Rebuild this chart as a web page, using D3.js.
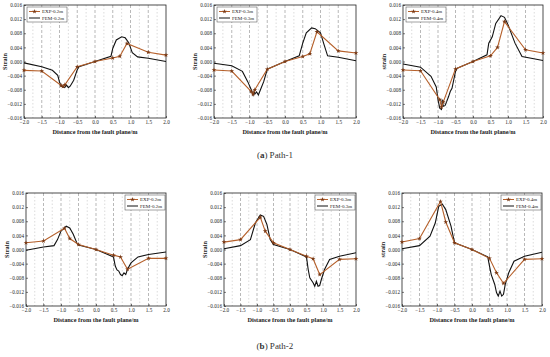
<!DOCTYPE html>
<html>
<head>
<meta charset="utf-8">
<script src="https://cdn.jsdelivr.net/npm/d3@7"></script>
<style>
  body { margin: 0; background: #fff; }
  svg { display: block; font-family: "Liberation Serif", "DejaVu Serif", serif; }
</style>
</head>
<body>
<script>
// x positions (m) and strain values
var xTicks = [-2.0, -1.5, -1.0, -0.5, 0.0, 0.5, 1.0, 1.5, 2.0]
var yTicks = [-0.016, -0.012, -0.008, -0.004, 0.000, 0.004, 0.008, 0.012, 0.016]

// Path-1
var p1ExpX = [-2.0, -1.5, -0.95, -0.9, -0.85, -0.5, 0.0, 0.5, 0.7, 0.9, 1.5, 2.0]
var p1ExpY02 = [-0.0025, -0.0027, -0.0068, -0.0071, -0.0066, -0.0015, 0.0, 0.001, 0.0015, 0.0051, 0.0026, 0.0018]
var p1ExpY03 = [-0.0024, -0.0027, -0.0085, -0.0093, -0.008, -0.0022, 0.0, 0.0014, 0.0022, 0.0084, 0.003, 0.0024]
var p1ExpY04 = [-0.0024, -0.0026, -0.0108, -0.0129, -0.0115, -0.0021, 0.0, 0.0016, 0.004, 0.0113, 0.0033, 0.0024]

var p1Fem02 = [[-2.0, -0.0004], [-1.5, -0.0015], [-1.2, -0.0025], [-1.05, -0.0039], [-1.0, -0.0058], [-0.95, -0.007],
  [-0.9, -0.0072], [-0.85, -0.0073], [-0.8, -0.0067], [-0.75, -0.0074], [-0.7, -0.007], [-0.6, -0.0053],
  [-0.5, -0.0023], [-0.45, -0.0015], [0.0, 0.0], [0.45, 0.0015], [0.5, 0.0037], [0.6, 0.0061], [0.75, 0.007],
  [0.85, 0.0067], [0.95, 0.0053], [1.05, 0.0025], [1.2, 0.0013], [1.5, 0.0009], [2.0, 0.0]]
var p1Fem03 = [[-2.0, -0.0005], [-1.5, -0.0012], [-1.2, -0.0028], [-1.05, -0.0057], [-0.95, -0.008], [-0.9, -0.0095],
  [-0.87, -0.0084], [-0.85, -0.0092], [-0.8, -0.0086], [-0.75, -0.0095], [-0.7, -0.0082], [-0.6, -0.0057],
  [-0.5, -0.0022], [0.0, 0.0], [0.4, 0.0016], [0.5, 0.0052], [0.6, 0.0081], [0.75, 0.0095], [0.85, 0.0093],
  [1.0, 0.0081], [1.1, 0.0048], [1.2, 0.0016], [1.5, 0.0012], [2.0, 0.0002]]
var p1Fem04 = [[-2.0, -0.0007], [-1.5, -0.0016], [-1.2, -0.0042], [-1.05, -0.0072], [-1.0, -0.0108], [-0.95, -0.0132],
  [-0.9, -0.0136], [-0.88, -0.0108], [-0.85, -0.0127], [-0.8, -0.0125], [-0.75, -0.0113], [-0.7, -0.01],
  [-0.65, -0.0085], [-0.6, -0.0076], [-0.5, -0.0028], [-0.45, -0.0019], [0.0, 0.0], [0.4, 0.0019],
  [0.45, 0.0052], [0.55, 0.007], [0.65, 0.0108], [0.8, 0.013], [0.9, 0.0125], [1.0, 0.0104], [1.2, 0.0052],
  [1.4, 0.0014], [2.0, 0.0003]]

// Path-2
var p2ExpX = [-2.0, -1.5, -0.9, -0.75, -0.5, 0.0, 0.5, 0.7, 0.9, 1.5, 2.0]
var p2ExpY02 = [0.0019, 0.0024, 0.006, 0.0031, 0.0014, 0.0, -0.0016, -0.0021, -0.0056, -0.0025, -0.0025]
var p2ExpY03 = [0.0021, 0.0028, 0.0091, 0.0052, 0.0019, 0.0, -0.0019, -0.0026, -0.0071, -0.0028, -0.0026]
var p2ExpY04 = [0.0021, 0.0031, 0.0136, 0.0078, 0.0019, 0.0, -0.0025, -0.0066, -0.0096, -0.0028, -0.0026]

var p2Fem02 = [[-2.0, -0.0002], [-1.5, 0.0007], [-1.2, 0.0011], [-1.1, 0.0028], [-1.0, 0.0052], [-0.85, 0.0066],
  [-0.75, 0.0061], [-0.65, 0.0043], [-0.55, 0.0019], [-0.5, 0.0013], [0.0, 0.0], [0.5, -0.0021],
  [0.55, -0.0047], [0.6, -0.0058], [0.65, -0.0061], [0.7, -0.0071], [0.75, -0.0074], [0.8, -0.0066],
  [0.85, -0.0071], [0.9, -0.0056], [1.0, -0.0038], [1.2, -0.0021], [1.5, -0.0014], [2.0, -0.0007]]
var p2Fem03 = [[-2.0, 0.0002], [-1.5, 0.0011], [-1.2, 0.0028], [-1.05, 0.0075], [-0.9, 0.0098], [-0.8, 0.0094],
  [-0.7, 0.0071], [-0.6, 0.0028], [-0.5, 0.0014], [0.0, 0.0], [0.5, -0.0021], [0.55, -0.0056], [0.6, -0.008],
  [0.7, -0.0094], [0.75, -0.0104], [0.8, -0.009], [0.85, -0.0104], [0.9, -0.0102], [0.95, -0.0085],
  [1.05, -0.0056], [1.2, -0.0028], [1.5, -0.0019], [2.0, -0.0009]]
var p2Fem04 = [[-2.0, 0.0002], [-1.5, 0.0011], [-1.2, 0.0038], [-1.05, 0.0075], [-0.95, 0.0122], [-0.85, 0.0129],
  [-0.75, 0.0113], [-0.6, 0.0066], [-0.5, 0.0019], [0.0, 0.0], [0.45, -0.0021], [0.5, -0.0047],
  [0.55, -0.0071], [0.65, -0.0099], [0.7, -0.0122], [0.75, -0.0132], [0.8, -0.0118], [0.85, -0.0132],
  [0.9, -0.0127], [0.95, -0.0099], [1.05, -0.0066], [1.2, -0.0033], [1.5, -0.0019], [2.0, -0.0008]]

var expColor = "#b5602b"
var femColor = "#111111"

var svg = d3.select("body").append("svg")
  .attr("width", 550)
  .attr("height", 357)

var panels = [
  {left: 24, right: 166, top: 5, bottom: 118, ex: p1ExpX, ey: p1ExpY02, fem: p1Fem02, tag: "0.2m", ylab: "Strain", leg: "left"},
  {left: 214, right: 356, top: 5, bottom: 118, ex: p1ExpX, ey: p1ExpY03, fem: p1Fem03, tag: "0.3m", ylab: "Strain", leg: "left"},
  {left: 403, right: 543, top: 5, bottom: 118, ex: p1ExpX, ey: p1ExpY04, fem: p1Fem04, tag: "0.4m", ylab: "strain", leg: "left"},
  {left: 26, right: 166, top: 193, bottom: 306, ex: p2ExpX, ey: p2ExpY02, fem: p2Fem02, tag: "0.2m", ylab: "Strain", leg: "right"},
  {left: 224, right: 356, top: 193, bottom: 306, ex: p2ExpX, ey: p2ExpY03, fem: p2Fem03, tag: "0.3m", ylab: "Strain", leg: "right"},
  {left: 402, right: 542, top: 193, bottom: 306, ex: p2ExpX, ey: p2ExpY04, fem: p2Fem04, tag: "0.4m", ylab: "strain", leg: "right"}
]

var drawPanel = function(p)
{
  var x = d3.scaleLinear().domain([-2, 2]).range([p.left, p.right])
  var y = d3.scaleLinear().domain([-0.016, 0.016]).range([p.bottom, p.top])
  var g = svg.append("g")

  // dashed vertical grid every 0.25
  var grid = d3.range(-1.75, 2, 0.25)
  g.selectAll(".grid")
    .data(grid)
    .enter()
    .append("line")
    .attr("x1", function(d) { return x(d) })
    .attr("x2", function(d) { return x(d) })
    .attr("y1", p.top)
    .attr("y2", p.bottom)
    .attr("stroke", function(d, i) { return i % 2 == 1 ? "#8a8a8a" : "#c4c4c4" })
    .attr("stroke-width", 0.6)
    .attr("stroke-dasharray", function(d, i) { return i % 2 == 1 ? "3,2" : "1.5,2" })

  var xAxis = d3.axisBottom(x).tickValues(xTicks).tickSize(-2).tickPadding(2)
    .tickFormat(d3.format(".1f"))
  var yAxis = d3.axisLeft(y).tickValues(yTicks).tickSize(-2).tickPadding(2)
    .tickFormat(d3.format(".3f"))

  g.append("g")
    .attr("transform", "translate(0," + p.bottom + ")")
    .call(xAxis)
    .call(function(a) { a.select(".domain").remove() })
  g.append("g")
    .attr("transform", "translate(" + p.left + ",0)")
    .call(yAxis)
    .call(function(a) { a.select(".domain").remove() })

  g.selectAll(".tick text")
    .attr("font-size", 5.2)
    .attr("font-family", "Liberation Serif")
    .attr("fill", "#222")
  g.selectAll(".tick line").attr("stroke", "#222").attr("stroke-width", 0.6)

  // frame
  g.append("rect")
    .attr("x", p.left)
    .attr("y", p.top)
    .attr("width", p.right - p.left)
    .attr("height", p.bottom - p.top)
    .attr("fill", "none")
    .attr("stroke", "#222")
    .attr("stroke-width", 0.8)

  // axis titles
  g.append("text")
    .attr("x", (p.left + p.right) / 2)
    .attr("y", p.bottom + 16)
    .attr("text-anchor", "middle")
    .attr("font-size", 6.3)
    .attr("font-weight", "bold")
    .attr("fill", "#222")
    .text("Distance from the fault plane/m")
  g.append("text")
    .attr("transform", "translate(" + (p.left - 17) + "," + ((p.top + p.bottom) / 2) + ") rotate(-90)")
    .attr("text-anchor", "middle")
    .attr("font-size", 6.3)
    .attr("font-weight", "bold")
    .attr("fill", "#222")
    .text(p.ylab)

  var line = d3.line()
    .x(function(d) { return x(d[0]) })
    .y(function(d) { return y(d[1]) })

  g.append("path")
    .attr("d", line(p.fem))
    .attr("fill", "none")
    .attr("stroke", femColor)
    .attr("stroke-width", 1.1)

  var exp = p.ex.map(function(v, i) { return [v, p.ey[i]] })
  g.append("path")
    .attr("d", line(exp))
    .attr("fill", "none")
    .attr("stroke", expColor)
    .attr("stroke-width", 1.1)
  g.selectAll(".pt")
    .data(exp)
    .enter()
    .append("path")
    .attr("d", d3.symbol().type(d3.symbolStar).size(7))
    .attr("transform", function(d) { return "translate(" + x(d[0]) + "," + y(d[1]) + ")" })
    .attr("fill", "#7a3a16")

  // legend
  var lw = 40, lh = 15
  var lx = p.leg == "left" ? p.left + 3 : p.right - lw - 1
  var ly = p.top + 2
  var lg = g.append("g").attr("transform", "translate(" + lx + "," + ly + ")")
  lg.append("rect")
    .attr("width", lw)
    .attr("height", lh)
    .attr("fill", "#fff")
    .attr("stroke", "#444")
    .attr("stroke-width", 0.5)
  var items = [{name: "EXP-" + p.tag, c: expColor}, {name: "FEM-" + p.tag, c: femColor}]
  var it = lg.selectAll(".it")
    .data(items)
    .enter()
    .append("g")
    .attr("transform", function(d, i) { return "translate(2," + (4.5 + i * 6.5) + ")" })
  it.append("line")
    .attr("x1", 0).attr("x2", 11)
    .attr("stroke", function(d) { return d.c })
    .attr("stroke-width", 1)
  it.filter(function(d, i) { return i == 0 })
    .append("path")
    .attr("d", d3.symbol().type(d3.symbolStar).size(7))
    .attr("transform", "translate(5.5,0)")
    .attr("fill", "#7a3a16")
  it.append("text")
    .attr("x", 13)
    .attr("y", 1.7)
    .attr("font-size", 5)
    .attr("fill", "#222")
    .text(function(d) { return d.name })
}

panels.forEach(drawPanel)

var captions = [{t: "a", s: " Path-1", y: 158}, {t: "b", s: " Path-2", y: 349}]
captions.forEach(function(c)
{
  var tx = svg.append("text")
    .attr("x", 275)
    .attr("y", c.y)
    .attr("text-anchor", "middle")
    .attr("font-size", 9)
    .attr("fill", "#333")
  tx.append("tspan").text("(")
  tx.append("tspan").attr("font-weight", "bold").text(c.t)
  tx.append("tspan").text(")" + c.s)
})
</script>
</body>
</html>
